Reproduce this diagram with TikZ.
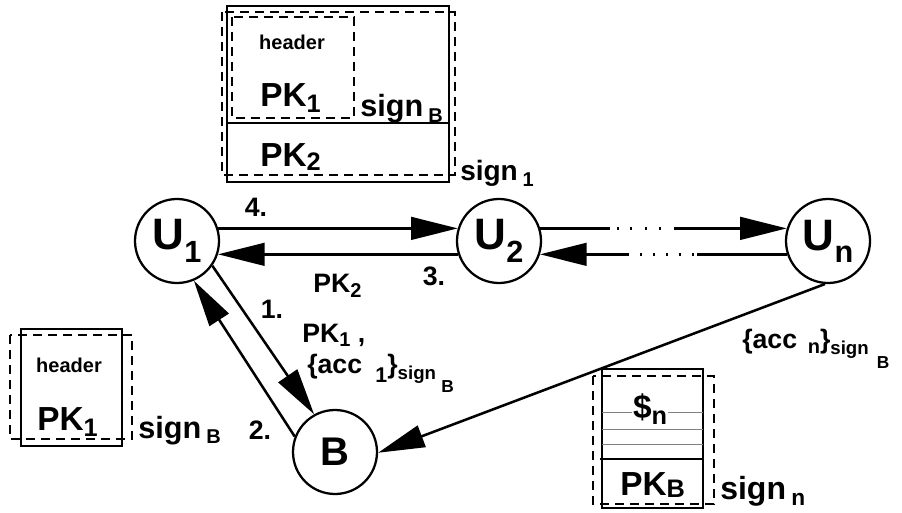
\documentclass[tikz,border=0pt]{standalone}
\usepackage{fontspec}
\setmainfont{Liberation Sans}
\usetikzlibrary{arrows.meta}

\newcommand{\fs}[1]{\fontsize{#1}{#1}\selectfont}
\newcommand{\sbs}[3]{\raisebox{-#1}{\fs{#2}#3}}

\tikzset{
  party/.style={draw, circle, line width=1.7pt, minimum size=63pt, inner sep=0pt, font=\bfseries\fs{33pt}},
  msg/.style={line width=1.9pt, -{Triangle[length=35pt,width=17pt]}},
  lbl/.style={font=\bfseries\fs{20pt}, inner sep=0pt},
  boxtxt/.style={font=\bfseries\fs{25pt}, inner sep=0pt, anchor=base west},
  signtxt/.style={font=\bfseries\fs{23pt}, inner sep=0pt, anchor=base west},
  hdr/.style={font=\bfseries\fs{15pt}, inner sep=0pt},
  solidbox/.style={line width=1.2pt},
  dashbox/.style={line width=1pt, dash pattern=on 6.75pt off 4.5pt},
}

\begin{document}
\begin{tikzpicture}[x=0.75pt,y=-0.75pt]
\useasboundingbox (0,0) rectangle (902,513);

\node[party] (U1) at (177,241) {U\sbs{10pt}{23pt}{1}};
\node[party] (U2) at (499,241) {U\sbs{10pt}{23pt}{2}};
\node[party] (Un) at (828,241) {U\sbs{9pt}{23pt}{n}};
\node[party,font=\bfseries\fs{30pt}] (B) at (335,452) {B};

\draw[msg] (U1.17) -- (U2.163);
\draw[msg] (U2.-162) -- (U1.-18);
\draw[msg, dash pattern=on 52.5pt off 5.25pt on 1.5pt off 8.25pt on 1.5pt off 9.75pt on 1.5pt off 9pt on 1.5pt off 9.75pt on 200pt] (U2.17) -- (Un.163);
\draw[msg, dash pattern=on 67.5pt off 2.25pt on 1.5pt off 8.25pt on 1.5pt off 8.25pt on 1.5pt off 8.25pt on 1.5pt off 8.25pt on 1.5pt off 8.25pt on 200pt] (Un.-162) -- (U2.-18);
\draw[msg] (U1.-35) -- (B.119);
\draw[msg] (B.159) -- (U1.-67);
\draw[msg] (Un.-94) -- (B.-1);

\node[lbl] (s4) at (256,207) {4.};
\node[lbl] (s3) at (434,276) {3.};
\node[lbl,anchor=base west] (pkb2) at (313,292) {PK\sbs{4pt}{15pt}{2}};
\node[lbl] (s1) at (272,309) {1.};
\node[lbl,anchor=base west] (pkb1) at (302,342) {PK\sbs{3pt}{15pt}{1} ,};
\node[lbl,anchor=base west] (acc1) at (307,373) {\{acc\hspace{10pt}\sbs{7pt}{16pt}{1}\}\sbs{4.5pt}{14pt}{sign\hspace{4pt}\sbs{10pt}{13pt}{B}}};
\node[lbl] (s2) at (260,430) {2.};
\node[lbl,anchor=base west] (accn) at (742,348) {\{acc\hspace{8pt}\sbs{4pt}{15pt}{n}\}\sbs{5pt}{14pt}{sign\hspace{6pt}\sbs{10pt}{13pt}{B}}};

\draw[solidbox] (227,6) rectangle (449,182);
\draw[solidbox] (227,123) -- (449,123);
\draw[dashbox] (222,12) rectangle (455,175);
\draw[dashbox] (232,17) rectangle (354,118);
\node[hdr] (hdr1) at (292,42) {header};
\node[boxtxt] (pk1a) at (260,107) {PK\sbs{4.5pt}{19pt}{1}};
\node[signtxt] (sgb1) at (360,117) {sign\,\sbs{4pt}{15pt}{B}};
\node[boxtxt] (pk2a) at (260,167) {PK\sbs{3pt}{19pt}{2}};
\node[signtxt,font=\bfseries\fs{21pt}] (sg1) at (460,181) {sign\,\sbs{4pt}{15pt}{1}};

\draw[solidbox] (21,329) rectangle (122,446);
\draw[dashbox] (10,335) rectangle (132,439);
\node[hdr] (hdr2) at (69,365) {header};
\node[boxtxt] (pk1b) at (37,430) {PK\sbs{4.5pt}{19pt}{1}};
\node[signtxt] (sgb2) at (138,438) {sign\,\sbs{4pt}{15pt}{B}};

\draw[solidbox] (602,369) rectangle (703,508);
\draw[gray, line width=0.7pt] (602,412) -- (703,412) (602,429) -- (703,429) (602,444) -- (703,444);
\draw[solidbox] (600,459) -- (702,459);
\draw[dashbox] (593,376) rectangle (714,504);
\node[boxtxt, anchor=center, fill=white, inner sep=1pt] (dol) at (650,409) {\$\sbs{4pt}{19pt}{n}};
\node[boxtxt] (pkb) at (620,495) {PK\sbs{2pt}{19pt}{B}};
\node[signtxt,font=\bfseries\fs{24pt}] (sgn) at (720,499) {sign\,\sbs{5pt}{17pt}{n}};
\end{tikzpicture}
\end{document}
